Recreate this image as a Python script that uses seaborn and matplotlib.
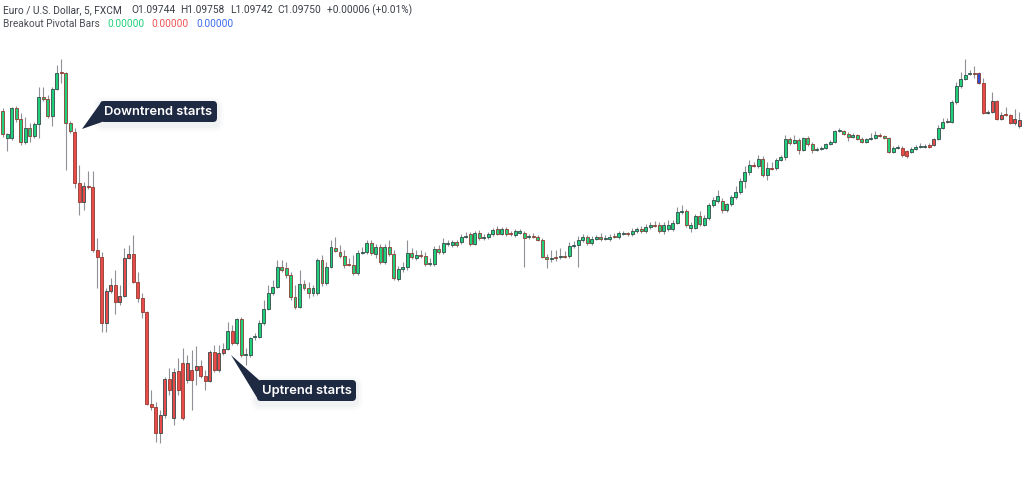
import numpy as np
import pandas as pd
import matplotlib.pyplot as plt
import seaborn as sns
from matplotlib.patches import FancyBboxPatch, Polygon

# EUR/USD 5 min bars, FXCM
open_ = [1.09759, 1.09732, 1.09732, 1.09762, 1.09751, 1.09728, 1.09742, 1.09734, 1.09746, 1.09773,
         1.09771, 1.09754, 1.09781, 1.09798, 1.09797, 1.09747, 1.09738, 1.09687, 1.09668, 1.09684,
         1.09683, 1.09620, 1.09613, 1.09547, 1.09579, 1.09585, 1.09568, 1.09574, 1.09612, 1.09616,
         1.09588, 1.09572, 1.09558, 1.09466, 1.09463, 1.09437, 1.09455, 1.09491, 1.09452, 1.09499,
         1.09507, 1.09490, 1.09500, 1.09500, 1.09504, 1.09494, 1.09489, 1.09518, 1.09500, 1.09517,
         1.09521, 1.09539, 1.09527, 1.09551, 1.09515, 1.09515, 1.09533, 1.09533, 1.09547, 1.09561,
         1.09577, 1.09583, 1.09603, 1.09602, 1.09595, 1.09573, 1.09563, 1.09586, 1.09582, 1.09577,
         1.09577, 1.09610, 1.09587, 1.09603, 1.09622, 1.09618, 1.09614, 1.09606, 1.09605, 1.09597,
         1.09617, 1.09618, 1.09627, 1.09616, 1.09623, 1.09608, 1.09623, 1.09616, 1.09591, 1.09601,
         1.09603, 1.09617, 1.09612, 1.09615, 1.09614, 1.09606, 1.09606, 1.09621, 1.09618, 1.09626,
         1.09625, 1.09628, 1.09628, 1.09633, 1.09636, 1.09626, 1.09637, 1.09632, 1.09633, 1.09636,
         1.09641, 1.09636, 1.09641, 1.09637, 1.09635, 1.09637, 1.09637, 1.09633, 1.09634, 1.09633,
         1.09630, 1.09613, 1.09611, 1.09613, 1.09613, 1.09614, 1.09614, 1.09624, 1.09625, 1.09630,
         1.09633, 1.09627, 1.09631, 1.09633, 1.09631, 1.09631, 1.09634, 1.09633, 1.09636, 1.09637,
         1.09636, 1.09639, 1.09641, 1.09639, 1.09643, 1.09645, 1.09645, 1.09639, 1.09641, 1.09641,
         1.09647, 1.09658, 1.09659, 1.09642, 1.09642, 1.09654, 1.09645, 1.09652, 1.09665, 1.09669,
         1.09669, 1.09660, 1.09666, 1.09673, 1.09678, 1.09689, 1.09698, 1.09705, 1.09704, 1.09711,
         1.09695, 1.09702, 1.09702, 1.09710, 1.09713, 1.09731, 1.09727, 1.09730, 1.09720, 1.09732,
         1.09726, 1.09720, 1.09721, 1.09722, 1.09726, 1.09728, 1.09739, 1.09739, 1.09736, 1.09733,
         1.09735, 1.09731, 1.09728, 1.09731, 1.09732, 1.09735, 1.09734, 1.09732, 1.09718, 1.09722,
         1.09722, 1.09719, 1.09718, 1.09721, 1.09723, 1.09723, 1.09725, 1.09725, 1.09731, 1.09742,
         1.09748, 1.09748, 1.09768, 1.09784, 1.09791, 1.09796, 1.09797, 1.09797, 1.09787, 1.09757,
         1.09758, 1.09769, 1.09751, 1.09756, 1.09755, 1.09747, 1.09744]

high = [1.09762, 1.09737, 1.09763, 1.09764, 1.09757, 1.09753, 1.09747, 1.09748, 1.09783, 1.09783,
        1.09775, 1.09783, 1.09805, 1.09811, 1.09798, 1.09749, 1.09742, 1.09705, 1.09688, 1.09699,
        1.09699, 1.09632, 1.09618, 1.09582, 1.09592, 1.09600, 1.09585, 1.09622, 1.09625, 1.09635,
        1.09598, 1.09577, 1.09559, 1.09480, 1.09468, 1.09460, 1.09493, 1.09502, 1.09502, 1.09512,
        1.09522, 1.09515, 1.09520, 1.09524, 1.09510, 1.09500, 1.09520, 1.09525, 1.09525, 1.09527,
        1.09548, 1.09545, 1.09552, 1.09553, 1.09522, 1.09533, 1.09537, 1.09550, 1.09570, 1.09585,
        1.09590, 1.09610, 1.09610, 1.09608, 1.09598, 1.09585, 1.09600, 1.09590, 1.09588, 1.09585,
        1.09612, 1.09615, 1.09608, 1.09630, 1.09633, 1.09625, 1.09620, 1.09612, 1.09615, 1.09620,
        1.09623, 1.09630, 1.09630, 1.09626, 1.09626, 1.09626, 1.09630, 1.09620, 1.09604, 1.09608,
        1.09630, 1.09622, 1.09620, 1.09620, 1.09618, 1.09612, 1.09624, 1.09625, 1.09632, 1.09630,
        1.09630, 1.09630, 1.09636, 1.09638, 1.09638, 1.09639, 1.09640, 1.09636, 1.09638, 1.09642,
        1.09644, 1.09643, 1.09643, 1.09639, 1.09641, 1.09641, 1.09639, 1.09636, 1.09637, 1.09635,
        1.09632, 1.09616, 1.09620, 1.09620, 1.09622, 1.09619, 1.09628, 1.09629, 1.09634, 1.09636,
        1.09635, 1.09634, 1.09635, 1.09637, 1.09635, 1.09636, 1.09637, 1.09639, 1.09639, 1.09638,
        1.09642, 1.09643, 1.09644, 1.09646, 1.09648, 1.09649, 1.09648, 1.09648, 1.09650, 1.09650,
        1.09663, 1.09665, 1.09661, 1.09648, 1.09656, 1.09659, 1.09655, 1.09667, 1.09673, 1.09680,
        1.09672, 1.09667, 1.09675, 1.09684, 1.09692, 1.09704, 1.09710, 1.09708, 1.09715, 1.09714,
        1.09708, 1.09708, 1.09712, 1.09715, 1.09735, 1.09733, 1.09735, 1.09732, 1.09733, 1.09734,
        1.09728, 1.09723, 1.09724, 1.09727, 1.09730, 1.09740, 1.09742, 1.09740, 1.09738, 1.09737,
        1.09736, 1.09733, 1.09732, 1.09737, 1.09739, 1.09737, 1.09735, 1.09733, 1.09724, 1.09725,
        1.09724, 1.09720, 1.09723, 1.09725, 1.09727, 1.09726, 1.09727, 1.09732, 1.09745, 1.09752,
        1.09752, 1.09770, 1.09788, 1.09798, 1.09811, 1.09800, 1.09804, 1.09798, 1.09792, 1.09760,
        1.09778, 1.09770, 1.09758, 1.09763, 1.09756, 1.09761, 1.09758]

low = [1.09733, 1.09719, 1.09730, 1.09748, 1.09725, 1.09726, 1.09728, 1.09732, 1.09732, 1.09769,
       1.09752, 1.09744, 1.09780, 1.09787, 1.09700, 1.09737, 1.09682, 1.09655, 1.09660, 1.09681,
       1.09618, 1.09582, 1.09538, 1.09538, 1.09577, 1.09556, 1.09565, 1.09573, 1.09611, 1.09587,
       1.09568, 1.09552, 1.09465, 1.09460, 1.09428, 1.09427, 1.09452, 1.09475, 1.09445, 1.09475,
       1.09450, 1.09487, 1.09460, 1.09485, 1.09492, 1.09480, 1.09488, 1.09498, 1.09498, 1.09515,
       1.09520, 1.09525, 1.09525, 1.09513, 1.09505, 1.09513, 1.09530, 1.09532, 1.09545, 1.09560,
       1.09575, 1.09582, 1.09598, 1.09592, 1.09570, 1.09561, 1.09562, 1.09580, 1.09572, 1.09574,
       1.09575, 1.09584, 1.09585, 1.09602, 1.09618, 1.09612, 1.09602, 1.09604, 1.09595, 1.09595,
       1.09616, 1.09616, 1.09615, 1.09612, 1.09606, 1.09606, 1.09614, 1.09590, 1.09589, 1.09598,
       1.09600, 1.09611, 1.09610, 1.09612, 1.09604, 1.09604, 1.09604, 1.09616, 1.09616, 1.09624,
       1.09623, 1.09623, 1.09626, 1.09632, 1.09624, 1.09625, 1.09630, 1.09630, 1.09631, 1.09634,
       1.09635, 1.09635, 1.09634, 1.09634, 1.09633, 1.09636, 1.09603, 1.09631, 1.09632, 1.09629,
       1.09612, 1.09602, 1.09608, 1.09609, 1.09611, 1.09612, 1.09612, 1.09622, 1.09603, 1.09628,
       1.09625, 1.09625, 1.09630, 1.09629, 1.09630, 1.09629, 1.09632, 1.09631, 1.09635, 1.09634,
       1.09634, 1.09637, 1.09637, 1.09637, 1.09641, 1.09643, 1.09637, 1.09636, 1.09639, 1.09639,
       1.09646, 1.09656, 1.09643, 1.09638, 1.09641, 1.09644, 1.09644, 1.09650, 1.09663, 1.09667,
       1.09657, 1.09658, 1.09664, 1.09671, 1.09676, 1.09682, 1.09695, 1.09703, 1.09702, 1.09693,
       1.09690, 1.09700, 1.09700, 1.09709, 1.09710, 1.09725, 1.09726, 1.09716, 1.09719, 1.09724,
       1.09717, 1.09719, 1.09720, 1.09721, 1.09725, 1.09727, 1.09738, 1.09735, 1.09729, 1.09732,
       1.09730, 1.09727, 1.09727, 1.09730, 1.09731, 1.09733, 1.09731, 1.09717, 1.09717, 1.09721,
       1.09713, 1.09712, 1.09717, 1.09720, 1.09722, 1.09722, 1.09722, 1.09724, 1.09730, 1.09741,
       1.09747, 1.09747, 1.09766, 1.09782, 1.09790, 1.09795, 1.09792, 1.09786, 1.09756, 1.09756,
       1.09757, 1.09750, 1.09750, 1.09754, 1.09746, 1.09745, 1.09742]

close = [1.09736, 1.09736, 1.09762, 1.09751, 1.09728, 1.09742, 1.09734, 1.09746, 1.09773, 1.09771,
         1.09754, 1.09781, 1.09797, 1.09797, 1.09747, 1.09739, 1.09687, 1.09668, 1.09684, 1.09683,
         1.09620, 1.09613, 1.09547, 1.09579, 1.09585, 1.09568, 1.09574, 1.09612, 1.09616, 1.09588,
         1.09572, 1.09558, 1.09466, 1.09463, 1.09437, 1.09455, 1.09491, 1.09480, 1.09498, 1.09480,
         1.09452, 1.09507, 1.09490, 1.09504, 1.09494, 1.09489, 1.09518, 1.09500, 1.09517, 1.09521,
         1.09539, 1.09527, 1.09551, 1.09515, 1.09516, 1.09532, 1.09534, 1.09547, 1.09561, 1.09577,
         1.09583, 1.09603, 1.09600, 1.09595, 1.09573, 1.09563, 1.09586, 1.09582, 1.09577, 1.09582,
         1.09610, 1.09587, 1.09603, 1.09623, 1.09619, 1.09614, 1.09605, 1.09605, 1.09597, 1.09617,
         1.09618, 1.09627, 1.09617, 1.09623, 1.09608, 1.09623, 1.09616, 1.09592, 1.09601, 1.09603,
         1.09617, 1.09613, 1.09615, 1.09614, 1.09606, 1.09607, 1.09621, 1.09618, 1.09627, 1.09627,
         1.09628, 1.09625, 1.09633, 1.09634, 1.09626, 1.09637, 1.09632, 1.09633, 1.09636, 1.09640,
         1.09636, 1.09641, 1.09636, 1.09636, 1.09639, 1.09639, 1.09632, 1.09634, 1.09633, 1.09630,
         1.09613, 1.09611, 1.09612, 1.09612, 1.09614, 1.09613, 1.09624, 1.09625, 1.09630, 1.09633,
         1.09627, 1.09631, 1.09633, 1.09631, 1.09632, 1.09633, 1.09633, 1.09637, 1.09637, 1.09636,
         1.09639, 1.09641, 1.09639, 1.09643, 1.09645, 1.09644, 1.09639, 1.09645, 1.09645, 1.09647,
         1.09658, 1.09659, 1.09645, 1.09645, 1.09654, 1.09646, 1.09652, 1.09665, 1.09670, 1.09674,
         1.09660, 1.09666, 1.09673, 1.09678, 1.09689, 1.09698, 1.09705, 1.09704, 1.09711, 1.09695,
         1.09702, 1.09701, 1.09710, 1.09713, 1.09731, 1.09727, 1.09730, 1.09720, 1.09732, 1.09726,
         1.09720, 1.09721, 1.09722, 1.09726, 1.09728, 1.09739, 1.09740, 1.09736, 1.09733, 1.09735,
         1.09731, 1.09728, 1.09731, 1.09732, 1.09735, 1.09734, 1.09732, 1.09718, 1.09722, 1.09723,
         1.09715, 1.09714, 1.09721, 1.09723, 1.09724, 1.09724, 1.09723, 1.09731, 1.09742, 1.09748,
         1.09749, 1.09768, 1.09784, 1.09791, 1.09795, 1.09797, 1.09796, 1.09787, 1.09757, 1.09758,
         1.09769, 1.09751, 1.09755, 1.09755, 1.09747, 1.09751, 1.09750]

# Breakout Pivotal Bars state: bars painted red / blue, the rest green
red_bars = [13, *range(16, 50), 51, 77, 113, 167, 171, 195, 200, 201, 206, 207, 210, *range(218, 227)]
blue_bars = [217]

header = ["Euro / U.S. Dollar, 5, FXCM", "O1.09744", "H1.09758", "L1.09742", "C1.09750", "+0.00006 (+0.01%)"]
indicator_name = "Breakout Pivotal Bars"
indicator_values = ["0.00000", "0.00000", "0.00000"]

sns.set_theme(style="white")
plt.rcParams["font.family"] = ["Inter", "DejaVu Sans"]

df = pd.DataFrame({"open": open_, "high": high, "low": low, "close": close})
df["bar"] = np.arange(len(df))
df["state"] = "up"
df.loc[red_bars, "state"] = "down"
df.loc[blue_bars, "state"] = "pivot"

fill_map = {"up": "#21cf7b", "down": "#e94b4b", "pivot": "#2c4fd8"}
df["fill"] = df["state"].map(fill_map)
df["edge"] = np.where(df["close"] >= df["open"], "#34494a", "#8e3b30")
df["bottom"] = df[["open", "close"]].min(axis=1)
df["height"] = (df["close"] - df["open"]).abs().clip(lower=0.000012)

fig = plt.figure(figsize=(10.24, 4.8), dpi=100)
ax = fig.add_axes([0, 0, 1, 1])
ax.vlines(df["bar"], df["low"], df["high"], color="#8f9197", linewidth=0.8, zorder=1)
ax.bar(df["bar"], df["height"], bottom=df["bottom"], width=0.66,
       color=df["fill"], edgecolor=df["edge"], linewidth=0.6, zorder=2)
ax.set_xlim(-0.6, 227.1)
ax.set_ylim(1.09390, 1.09870)
ax.axis("off")
sns.despine(ax=ax, left=True, bottom=True)

# overlay in pixel units for the legend text and the callouts
ov = fig.add_axes([0, 0, 1, 1])
ov.set_xlim(0, 1024)
ov.set_ylim(480, 0)
ov.axis("off")
ov.patch.set_alpha(0)

txt_kw = dict(fontsize=7.3, va="center", ha="left", family=["Roboto", "DejaVu Sans"])
for s, x in zip(header, [3, 131, 180, 230, 277, 327]):
    ov.text(x, 10, s, color="#3a3e47", **txt_kw)
ov.text(3, 24, indicator_name, color="#4d5058", **txt_kw)
for s, x, c in zip(indicator_values, [107, 151, 196], ["#22d07c", "#f05454", "#3d6cf2"]):
    ov.text(x, 24, s, color=c, **txt_kw)


def callout(x0, y0, w, h, tip, label):
    for k, a in [(7, 0.025), (5, 0.035), (3, 0.05)]:
        ov.add_patch(FancyBboxPatch((x0 - k, y0 - k + 3), w + 2 * k, h + 2 * k,
                                    boxstyle=f"round,pad=0,rounding_size={4 + k}",
                                    fc="#8a93a6", ec="none", alpha=a, zorder=3))
    ov.add_patch(FancyBboxPatch((x0, y0), w, h, boxstyle="round,pad=0,rounding_size=4",
                                fc="#1e2942", ec="none", zorder=4))
    ov.add_patch(Polygon([tip, (x0 + 2, y0), (x0 + 2, y0 + h)], closed=True,
                         fc="#1e2942", ec="none", zorder=4))
    ov.text(x0 + w / 2, y0 + h / 2 + 0.5, label, color="white", fontsize=9.3,
            fontweight="semibold", ha="center", va="center", zorder=5)


callout(100, 101, 117, 21, (82, 129), "Downtrend starts")
callout(257, 380, 99, 21, (231, 355), "Uptrend starts")

fig.savefig("out.png", dpi=100, facecolor="white")
